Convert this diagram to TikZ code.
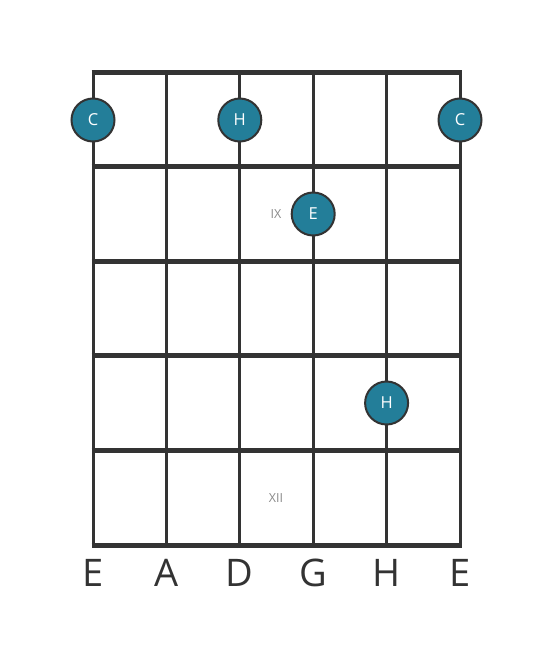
\documentclass[tikz,border=0pt]{standalone}
\usepackage{fontspec}
\setmainfont{Open Sans}
\usetikzlibrary{calc}

\definecolor{notefill}{HTML}{237E99}
\definecolor{gridline}{HTML}{333333}
\definecolor{fretnum}{HTML}{8A8A8A}

\begin{document}
\begin{tikzpicture}[x=1pt,y=-1pt,
  note/.style={circle,draw=gridline,line width=2pt,fill=notefill,minimum size=43pt,inner sep=0pt,text=white,font=\fontsize{16.5}{16.5}\selectfont},
  strname/.style={text=gridline,font=\fontsize{38}{38}\selectfont},
  fretlabel/.style={text=fretnum,font=\fontsize{12.5}{12.5}\selectfont}]

\useasboundingbox (0,0) rectangle (553,656);

% strings
\foreach \x in {93, 166.4, 239.8, 313.2, 386.6, 460} {
 \draw[gridline,line width=3pt] (\x,72) -- (\x,545);
};
% frets
\foreach \y in {72, 166.6, 261.2, 355.8, 450.4, 545} {
 \draw[gridline,line width=5pt] (91.5,\y) -- (461.5,\y);
};

% string names
\foreach \x/\s [count=\i] in {93/E, 166.4/A, 239.8/D, 313.2/G, 386.6/H, 460/E} {
 \node[strname] (s\i) at (\x,573) {\s};
};

% fret numbers
\node[fretlabel] (f9) at (276,214) {IX};
\node[fretlabel] (f12) at (276,498) {XII};

% notes
\node[note] (c1) at (93,120) {C};
\node[note] (h1) at (239.8,120) {H};
\node[note] (c2) at (460,120) {C};
\node[note] (e1) at (313.2,214) {E};
\node[note] (h2) at (386.6,403) {H};
\end{tikzpicture}
\end{document}
